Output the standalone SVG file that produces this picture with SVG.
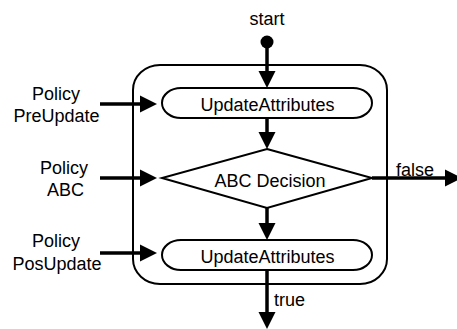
<svg xmlns="http://www.w3.org/2000/svg" width="457" height="329" viewBox="0 0 457 329">
<style>
text{font-family:"Liberation Sans",Arial,sans-serif;font-size:18px;fill:#000}
.c{text-anchor:middle}
.s{fill:#fff;stroke:#000;stroke-width:2}
.a{stroke:#000;stroke-width:3.5;fill:none;marker-end:url(#ah)}
</style>
<defs>
<marker id="ah" markerUnits="userSpaceOnUse" markerWidth="17" markerHeight="18" viewBox="0 0 17 18" refX="13" refY="9" orient="auto">
<path d="M0,0.5 L17,9 L0,17.5 z" fill="#000"/>
</marker>
</defs>
<rect width="457" height="329" fill="#fff"/>
<g id="container"><rect class="s" x="133" y="65" width="254" height="219" rx="27" ry="25"/></g>
<g id="start"><circle cx="267" cy="42" r="6.5" fill="#000"/><text class="c" x="267" y="25">start</text></g>
<g id="update1"><rect class="s" x="162" y="88" width="210" height="30" rx="19" ry="15"/><text class="c" x="267.5" y="111">UpdateAttributes</text></g>
<g id="decision"><polygon class="s" points="267,149 372,178 267,208 162,178"/><text class="c" x="270" y="187">ABC Decision</text></g>
<g id="update2"><rect class="s" x="162" y="240" width="210" height="30" rx="19" ry="15"/><text class="c" x="267.5" y="263">UpdateAttributes</text></g>
<g id="policy1"><text class="c" x="56" y="100">Policy</text><text class="c" x="56.5" y="122">PreUpdate</text></g>
<g id="policy2"><text class="c" x="64" y="174">Policy</text><text class="c" x="65.5" y="196">ABC</text></g>
<g id="policy3"><text class="c" x="56" y="247">Policy</text><text class="c" x="57" y="270">PosUpdate</text></g>
<g id="connectors">
<line class="a" x1="267" y1="46" x2="267" y2="84"/>
<line class="a" x1="267" y1="118" x2="267" y2="145"/>
<line class="a" x1="267" y1="208" x2="267" y2="236"/>
<line class="a" x1="267" y1="270" x2="267" y2="325"/>
<line class="a" x1="372" y1="178" x2="458" y2="178"/>
<line class="a" x1="100" y1="104" x2="153" y2="104"/>
<line class="a" x1="100" y1="178" x2="153" y2="178"/>
<line class="a" x1="100" y1="253" x2="153" y2="253"/>
<text x="396" y="176">false</text>
<text x="274" y="306">true</text>
</g>
</svg>
